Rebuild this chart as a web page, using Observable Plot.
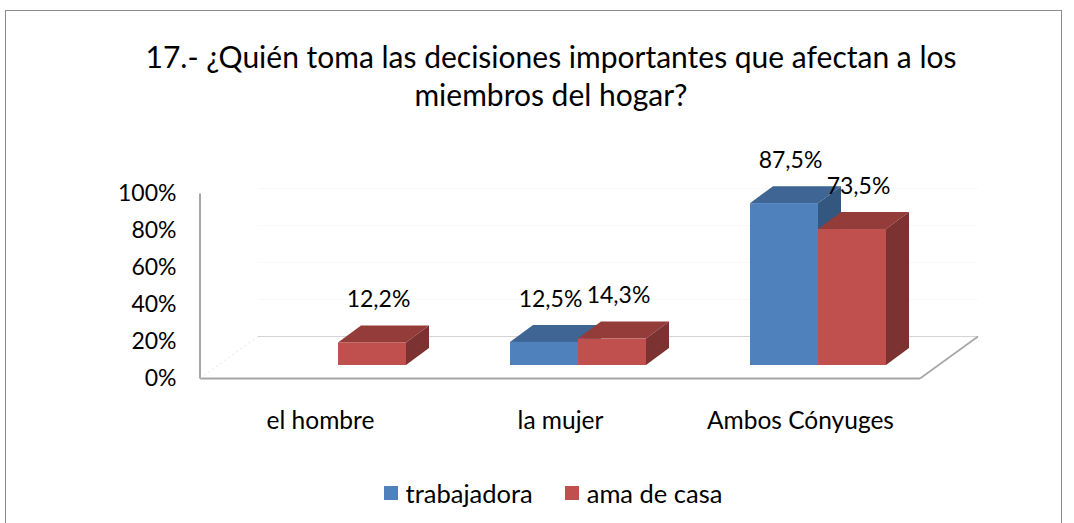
<!DOCTYPE html>
<html><head><meta charset="utf-8">
<script src="https://cdn.jsdelivr.net/npm/d3@7"></script>
<script src="https://cdn.jsdelivr.net/npm/@observablehq/plot@0.6"></script>
<style>
body{margin:0;background:#fff;font-family:Lato,"Open Sans",sans-serif;width:1074px;height:523px;overflow:hidden;position:relative;color:#000}
#box{position:absolute;left:5px;top:10px;width:1055px;height:560px;border:1px solid #8c8c8c;}
#title{position:absolute;left:28px;width:1046px;top:37px;text-align:center;font-size:30px;line-height:38px}
#chart{position:absolute;left:0;top:130px}
#legend{position:absolute;top:479px;left:0;width:1106px;display:flex;justify-content:center;align-items:center;font-size:25.5px;line-height:28px}
#legend .item{display:flex;align-items:center;margin:0 16px}
#legend .sw{width:14px;height:14px;margin-right:8px}
</style></head>
<body>
<div id="box"></div>
<div id="title">17.- ¿Quién toma las decisiones importantes que afectan a los<br>miembros del hogar?</div>
<div id="chart"></div>
<div id="legend"></div>
<script>
const categories = ["el hombre", "la mujer", "Ambos Cónyuges"];
const seriesNames = ["trabajadora", "ama de casa"];
const trabajadora = [0, 12.5, 87.5];
const amaDeCasa = [12.2, 14.3, 73.5];
const yTicks = [0, 20, 40, 60, 80, 100];

const frontColors = ["#4f81bd", "#c0504d"];
const topColors = ["#3e6593", "#943c3a"];
const sideColors = ["#34577f", "#7b3230"];
const barDx = [-16, 52];

const data = [];
categories.forEach((c, i) => {
  data.push({category: c, series: seriesNames[0], value: trabajadora[i]});
  data.push({category: c, series: seriesNames[1], value: amaDeCasa[i]});
});
const fmt = v => v.toFixed(1).replace(".", ",") + "%";
const ns = "http://www.w3.org/2000/svg";
function el(tag, attrs) {
  const e = document.createElementNS(ns, tag);
  for (const k in attrs) e.setAttribute(k, attrs[k]);
  return e;
}
function extrude(depthX, depthY, topFill, sideFill) {
  return function(index, scales, values, dimensions, context, next) {
    const g = next(index, scales, values, dimensions, context);
    for (const r of Array.from(g.querySelectorAll("rect"))) {
      const x = +r.getAttribute("x"), y = +r.getAttribute("y");
      const w = +r.getAttribute("width"), h = +r.getAttribute("height");
      const top = el("polygon", {points: `${x},${y} ${x+w},${y} ${x+w+depthX},${y-depthY} ${x+depthX},${y-depthY}`, fill: topFill});
      const side = el("polygon", {points: `${x+w},${y} ${x+w+depthX},${y-depthY} ${x+w+depthX},${y+h-depthY} ${x+w},${y+h}`, fill: sideFill});
      r.parentNode.insertBefore(top, r);
      r.parentNode.insertBefore(side, r);
    }
    return g;
  };
}
function floor(index, scales, values, dimensions, context, next) {
  const g = next(index, scales, values, dimensions, context);
  const ln = g.querySelector("line");
  const x1 = +ln.getAttribute("x1"), x2 = +ln.getAttribute("x2"), y = +ln.getAttribute("y1");
  const dX = 58, dY = 42;
  for (const t of yTicks.slice(1, -1)) {
    const yy = scales.y(t) - dY;
    g.appendChild(el("line", {x1: x1 + dX, x2: x2 + dX, y1: yy, y2: yy, stroke: "#f9f9f9", "stroke-width": 1}));
  }
  g.appendChild(el("line", {x1: x1 + dX, x2: x2 + dX, y1: y - dY, y2: y - dY, stroke: "#d4d4d4", "stroke-width": 1.2}));
  g.appendChild(el("line", {x1: x1, x2: x1 + dX, y1: y, y2: y - dY, stroke: "#e6e6e6", "stroke-width": 1, "stroke-dasharray": "2,3"}));
  g.appendChild(el("line", {x1: x2, x2: x2 + dX, y1: y, y2: y - dY, stroke: "#a6a6a6", "stroke-width": 1.6}));
  g.appendChild(el("line", {x1: x1, x2: x1, y1: y, y2: scales.y(100), stroke: "#a6a6a6", "stroke-width": 2}));
  return g;
}

const marks = [
  Plot.ruleY([0], {stroke: "#a6a6a6", strokeWidth: 2, render: floor}),
  Plot.axisY({ticks: yTicks, tickFormat: d => d + "%", tickSize: 0, tickPadding: 24, fontSize: 23, label: null, fill: "#000"}),
  Plot.axisX({tickSize: 0, tickPadding: 33, fontSize: 24.5, label: null, fill: "#000"})
];
seriesNames.forEach((s, k) => {
  const subset = data.filter(d => d.series === s && d.value > 0);
  marks.push(Plot.barY(subset, {x: "category", y: "value", fill: frontColors[k], dx: barDx[k], dy: -13, render: extrude(23, 17, topColors[k], sideColors[k])}));
});
seriesNames.forEach((s, k) => {
  const subset = data.filter(d => d.series === s && d.value > 0);
  marks.push(Plot.text(subset, {x: "category", y: "value", text: d => fmt(d.value), dx: barDx[k] + 6, dy: -56, fontSize: 23, fill: "#000"}));
});

const chart = Plot.plot({
  width: 1074,
  height: 320,
  marginLeft: 200,
  marginRight: 154,
  marginTop: 63,
  marginBottom: 72,
  style: {fontFamily: "Lato, 'Open Sans', sans-serif", background: "transparent", overflow: "visible"},
  x: {domain: categories, paddingInner: 0.7167, paddingOuter: 0.3583},
  y: {domain: [0, 100]},
  marks
});
document.getElementById("chart").appendChild(chart);

const legend = document.getElementById("legend");
seriesNames.forEach((s, k) => {
  const item = document.createElement("div");
  item.className = "item";
  const sw = document.createElement("div");
  sw.className = "sw";
  sw.style.background = frontColors[k];
  const tx = document.createElement("span");
  tx.textContent = s;
  item.appendChild(sw); item.appendChild(tx);
  legend.appendChild(item);
});
</script>
</body></html>
